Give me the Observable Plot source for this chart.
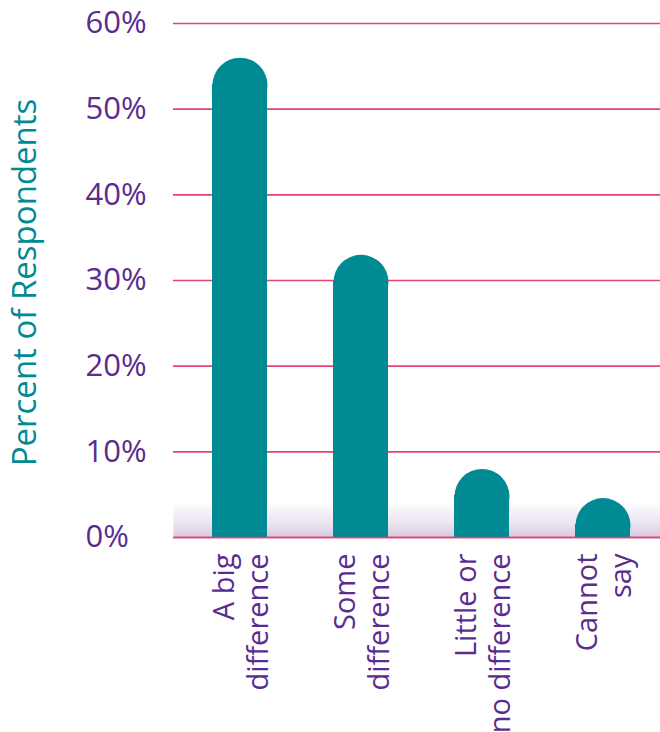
<!DOCTYPE html>
<html>
<head>
<meta charset="utf-8">
<script src="https://cdn.jsdelivr.net/npm/d3@7"></script>
<script src="https://cdn.jsdelivr.net/npm/@observablehq/plot@0.6"></script>
<style>
  html, body { margin: 0; padding: 0; background: #ffffff; }
</style>
</head>
<body>
<div id="chart"></div>
<script>
const categories = ["A big difference", "Some difference", "Little or no difference", "Cannot say"];
const labels = ["A big\ndifference", "Some\ndifference", "Little or\nno difference", "Cannot\nsay"];
const values = [56, 33, 8, 4.6];
const yTicks = [0, 10, 20, 30, 40, 50, 60];
const yLabel = "Percent of Respondents";

const teal = "#008a93";
const purple = "#5b2c8f";
const pink = "#e8416f";

const data = categories.map((c, i) => ({category: c, label: labels[i], value: values[i]}));

const svg = Plot.plot({
  width: 660,
  height: 732,
  marginTop: 23,
  marginBottom: 195,
  marginLeft: 173,
  marginRight: 0,
  style: {fontFamily: "'Open Sans', sans-serif", background: "#ffffff", overflow: "visible"},
  x: {type: "band", domain: categories, range: [179, 663], paddingInner: 0.545, paddingOuter: 0.2725, axis: null},
  y: {domain: [0, 60], axis: null},
  marks: [
    Plot.frame({fill: "url(#shadowV)", stroke: "none", mask: "url(#shadowMask)"}),
    Plot.ruleY(yTicks, {stroke: pink, strokeWidth: 1.6}),
    Plot.barY(data, {x: "category", y: "value", fill: teal, insetTop: 26.5}),
    Plot.dot(data, {x: "category", y: "value", r: 27.5, dy: 27.5, fill: teal, stroke: "none", clip: true}),
    Plot.ruleY([0], {stroke: pink, strokeWidth: 1.6}),
    Plot.text(yTicks, {y: d => d, text: d => `${d}%`, frameAnchor: "left", textAnchor: "start", dx: -88, fill: purple, fontSize: 31}),
    Plot.text([yLabel], {frameAnchor: "left", textAnchor: "middle", lineAnchor: "middle", rotate: -90, dx: -148, dy: 2, fill: teal, fontSize: 33}),
    Plot.text(data, {x: "category", text: "label", frameAnchor: "bottom", rotate: -90, textAnchor: "end", lineAnchor: "middle", dy: 16, fontSize: 29, lineHeight: 1.18, fill: purple})
  ]
});

d3.select(svg).insert("defs", ":first-child").html(`
  <linearGradient id="shadowV" x1="0" y1="0" x2="0" y2="1">
    <stop offset="0" stop-color="#ffffff" stop-opacity="0"/>
    <stop offset="0.93" stop-color="#d8cde3" stop-opacity="0"/>
    <stop offset="0.97" stop-color="#dcd2e6" stop-opacity="0.55"/>
    <stop offset="1" stop-color="#d2c5df" stop-opacity="0.95"/>
  </linearGradient>
  <linearGradient id="shadowH" x1="0" y1="0" x2="1" y2="0">
    <stop offset="0" stop-color="#ffffff" stop-opacity="0"/>
    <stop offset="0.09" stop-color="#ffffff" stop-opacity="1"/>
    <stop offset="0.96" stop-color="#ffffff" stop-opacity="1"/>
    <stop offset="1" stop-color="#ffffff" stop-opacity="0.4"/>
  </linearGradient>
  <mask id="shadowMask" maskContentUnits="objectBoundingBox">
    <rect x="0" y="0" width="1" height="1" fill="url(#shadowH)"/>
  </mask>
`);

document.getElementById("chart").appendChild(svg);
</script>
</body>
</html>
